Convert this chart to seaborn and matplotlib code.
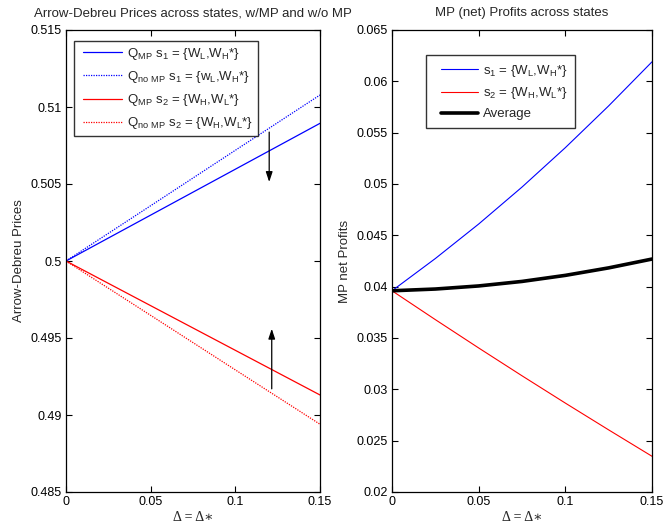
import matplotlib
matplotlib.use("Agg")
import matplotlib.pyplot as plt
from matplotlib.lines import Line2D
from matplotlib.legend_handler import HandlerLine2D
import seaborn as sns

# ---- data ----
delta_lin = [0.0, 0.05, 0.10, 0.15]
q_mp_s1 = [0.5, 0.50298, 0.50596, 0.50894]
q_nomp_s1 = [0.5, 0.50359, 0.50719, 0.51078]
q_mp_s2 = [0.5, 0.49710, 0.49420, 0.49130]
q_nomp_s2 = [0.5, 0.49647, 0.49293, 0.48940]

delta_prof = [0.0, 0.025, 0.05, 0.075, 0.10, 0.125, 0.15]
profit_s1 = [0.0396, 0.04274, 0.04610, 0.04970, 0.05354, 0.05761, 0.06190]
profit_s2 = [0.0396, 0.03679, 0.03403, 0.03132, 0.02866, 0.02605, 0.02348]
profit_avg = [0.0396, 0.03977, 0.04007, 0.04051, 0.04110, 0.04183, 0.04269]

xticks = [0, 0.05, 0.1, 0.15]
xtick_labels = ["0", "0.05", "0.1", "0.15"]
yticks_left = [0.485, 0.49, 0.495, 0.5, 0.505, 0.51, 0.515]
ytick_labels_left = ["0.485", "0.49", "0.495", "0.5", "0.505", "0.51", "0.515"]
yticks_right = [0.02, 0.025, 0.03, 0.035, 0.04, 0.045, 0.05, 0.055, 0.06, 0.065]
ytick_labels_right = ["0.02", "0.025", "0.03", "0.035", "0.04", "0.045", "0.05", "0.055", "0.06", "0.065"]

sns.set_style("white")
plt.rcParams["font.family"] = ["Liberation Sans", "DejaVu Sans"]
plt.rcParams["mathtext.fontset"] = "custom"
plt.rcParams["mathtext.rm"] = "Liberation Sans"
plt.rcParams["mathtext.it"] = "Liberation Sans:italic"
plt.rcParams["mathtext.bf"] = "Liberation Sans:bold"

fig = plt.figure(figsize=(6.65, 5.24), dpi=100)
axL = fig.add_axes([66/665, 32/524, (320-66)/665, 462/524])
axR = fig.add_axes([392/665, 32/524, (652-392)/665, 462/524])

lbl_mp1 = r"Q$_{\mathrm{MP}}$ s$_{\mathrm{1}}$ = {W$_{\mathrm{L}}$,W$_{\mathrm{H}}$*}"
lbl_nomp1 = r"Q$_{\mathrm{no\ MP}}$ s$_{\mathrm{1}}$ = {w$_{\mathrm{L}}$,W$_{\mathrm{H}}$*}"
lbl_mp2 = r"Q$_{\mathrm{MP}}$ s$_{\mathrm{2}}$ = {W$_{\mathrm{H}}$,W$_{\mathrm{L}}$*}"
lbl_nomp2 = r"Q$_{\mathrm{no\ MP}}$ s$_{\mathrm{2}}$ = {W$_{\mathrm{H}}$,W$_{\mathrm{L}}$*}"

sns.lineplot(x=delta_lin, y=q_mp_s1, ax=axL, color=(0, 0, 1), lw=0.9, label=lbl_mp1)
sns.lineplot(x=delta_lin, y=q_nomp_s1, ax=axL, color=(0, 0, 1), lw=0.9, linestyle=(0, (1, 1)), label=lbl_nomp1)
sns.lineplot(x=delta_lin, y=q_mp_s2, ax=axL, color=(1, 0, 0), lw=0.9, label=lbl_mp2)
sns.lineplot(x=delta_lin, y=q_nomp_s2, ax=axL, color=(1, 0, 0), lw=0.9, linestyle=(0, (1, 1)), label=lbl_nomp2)

arrow_kw = dict(arrowstyle="-|>,head_length=0.6,head_width=0.2", color="black", lw=0.9, shrinkA=0, shrinkB=0)
axL.annotate("", xy=(0.12, 0.50513), xytext=(0.12, 0.50837), arrowprops=arrow_kw)
axL.annotate("", xy=(0.1215, 0.4956), xytext=(0.1215, 0.4917), arrowprops=arrow_kw)

sns.lineplot(x=delta_prof, y=profit_s1, ax=axR, color=(0, 0, 1), lw=0.8,
             label=r"s$_{\mathrm{1}}$ = {W$_{\mathrm{L}}$,W$_{\mathrm{H}}$*}")
sns.lineplot(x=delta_prof, y=profit_s2, ax=axR, color=(1, 0, 0), lw=0.8,
             label=r"s$_{\mathrm{2}}$ = {W$_{\mathrm{H}}$,W$_{\mathrm{L}}$*}")
sns.lineplot(x=delta_prof, y=profit_avg, ax=axR, color="black", lw=2.6, label="Average")

for ax, yt, ytl, ylim in [(axL, yticks_left, ytick_labels_left, (0.485, 0.515)),
                          (axR, yticks_right, ytick_labels_right, (0.02, 0.065))]:
    ax.set_xlim(0, 0.15)
    ax.set_ylim(*ylim)
    ax.set_xticks(xticks)
    ax.set_xticklabels(xtick_labels)
    ax.set_yticks(yt)
    ax.set_yticklabels(ytl)
    ax.tick_params(direction="in", length=4, width=0.8, labelsize=9, colors="black",
                   top=True, right=True, bottom=True, left=True, pad=3)
    for s in ax.spines.values():
        s.set_color("black")
        s.set_linewidth(0.9)
    ax.set_xlabel("Δ = Δ∗", family=["Liberation Serif", "DejaVu Serif"], fontsize=10, labelpad=2)

axL.set_title("Arrow-Debreu Prices across states, w/MP and w/o MP", fontsize=9.5, pad=10)
axR.set_title("MP (net) Profits across states", fontsize=9.5, pad=10)
axL.set_ylabel("Arrow-Debreu Prices", fontsize=9.5, labelpad=4)
axR.set_ylabel("MP net Profits", fontsize=9.5, labelpad=4)

legL = axL.legend(loc="upper left", bbox_to_anchor=(0.031, 0.976), fontsize=9.5, frameon=True,
                  fancybox=False, edgecolor="black", handlelength=3.3, handletextpad=0.4,
                  borderpad=0.35, labelspacing=0.55, borderaxespad=0,
                  handler_map={Line2D: HandlerLine2D(xpad=0.33)})
legL.get_frame().set_linewidth(1.0)
legR = axR.legend(loc="upper left", bbox_to_anchor=(0.131, 0.946), fontsize=9.5, frameon=True,
                  fancybox=False, edgecolor="black", handlelength=3.3, handletextpad=0.4,
                  borderpad=0.6, labelspacing=0.5, borderaxespad=0,
                  handler_map={Line2D: HandlerLine2D(xpad=0.55)})
legR.get_frame().set_linewidth(1.0)

fig.savefig("out.png", dpi=100, facecolor="white")
